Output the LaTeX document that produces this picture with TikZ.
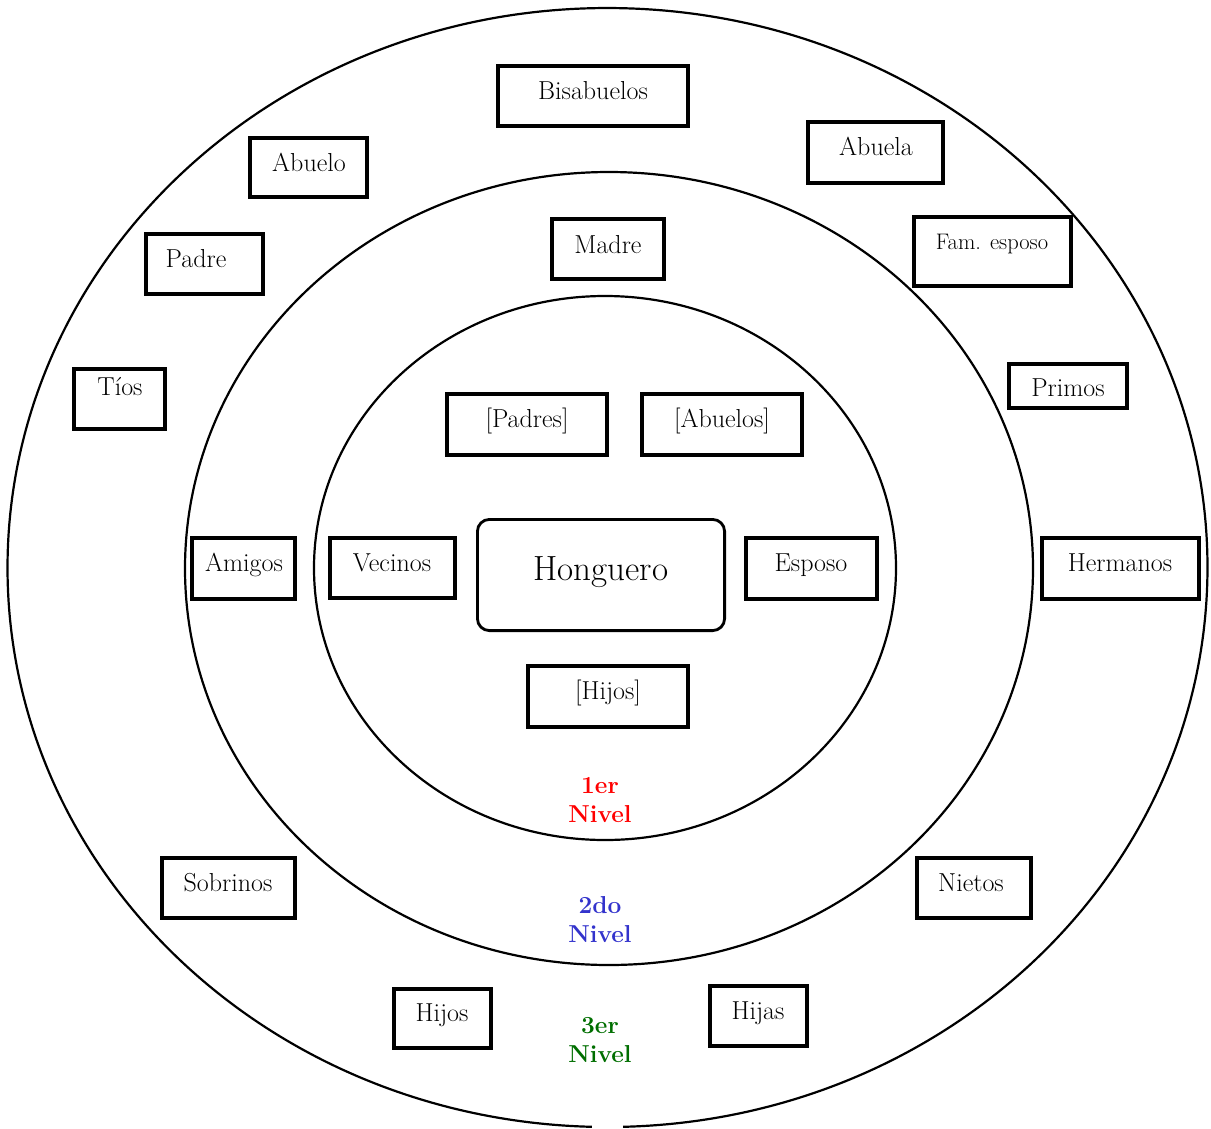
\documentclass[tikz,border=0pt]{standalone}
\usepackage{fontspec}
\usetikzlibrary{fit}
\definecolor{nivred}{RGB}{255,0,0}
\definecolor{nivblue}{RGB}{51,51,204}
\definecolor{nivgreen}{RGB}{0,110,0}
\begin{document}
\begin{tikzpicture}[x=1pt,y=-1pt,
  ring/.style={line width=2.2pt},
  box/.style={draw, line width=4pt, fill=white, inner sep=-2pt},
  hbox/.style={draw, line width=2.8pt, fill=white, inner sep=-1.4pt, rounded corners=12pt},
  lbl/.style={anchor=base, inner sep=0pt, font=\fontsize{26}{31}\selectfont},
  slbl/.style={anchor=base, inner sep=0pt, font=\fontsize{22.5}{27}\selectfont},
  hlbl/.style={anchor=base, inner sep=0pt, font=\fontsize{35}{41}\selectfont},
  niv/.style={anchor=base, inner sep=0pt, font=\bfseries\fontsize{24.5}{29}\selectfont}]
\useasboundingbox (0,0) rectangle (1211,1128);
% rings
\draw[ring] (591.8,1126.8) arc[start angle=91.5, end angle=448.5, x radius=600, y radius=559.5];
\draw[ring] (609,568.5) ellipse[x radius=424, y radius=396.5];
\draw[ring] (605,568) ellipse[x radius=291, y radius=272];
% boxes
\node[box, fit={(496,64) (690,128)}] (bisabuelos) {};
\node[box, fit={(248,136) (369,199)}] (abuelo) {};
\node[box, fit={(806,120) (945,185)}] (abuela) {};
\node[box, fit={(144,232) (265,296)}] (padre) {};
\node[box, fit={(550,217) (666,281)}] (madre) {};
\node[box, fit={(912,215) (1073,288)}] (famesposo) {};
\node[box, fit={(72,367) (167,431)}] (tios) {};
\node[box, fit={(1007,362) (1129,410)}] (primos) {};
\node[box, fit={(445,392) (609,457)}] (padres) {};
\node[box, fit={(640,392) (804,457)}] (abuelos) {};
\node[box, fit={(190,536) (297,601)}] (amigos) {};
\node[box, fit={(328,536) (457,600)}] (vecinos) {};
\node[hbox, fit={(476,518) (726,632)}] (honguero) {};
\node[box, fit={(744,536) (879,601)}] (esposo) {};
\node[box, fit={(1040,536) (1201,601)}] (hermanos) {};
\node[box, fit={(526,664) (690,729)}] (hijosc) {};
\node[box, fit={(160,856) (297,920)}] (sobrinos) {};
\node[box, fit={(915,856) (1033,920)}] (nietos) {};
\node[box, fit={(392,987) (493,1050)}] (hijos) {};
\node[box, fit={(708,984) (809,1048)}] (hijas) {};
% labels
\node[lbl] (t-bisabuelos) at (593,99) {Bisabuelos};
\node[lbl] (t-abuelo) at (309,171) {Abuelo};
\node[lbl] (t-abuela) at (876,155) {Abuela};
\node[lbl] (t-padre) at (196,267) {Padre};
\node[lbl] (t-madre) at (608,253) {Madre};
\node[slbl] (t-famesposo) at (992,249) {Fam. esposo};
\node[lbl] (t-tios) at (120,395) {Tíos};
\node[lbl] (t-primos) at (1068,396) {Primos};
\node[lbl] (t-padres) at (527,427) {[Padres]};
\node[lbl] (t-abuelos) at (722,427) {[Abuelos]};
\node[lbl] (t-amigos) at (244,571) {Amigos};
\node[lbl] (t-vecinos) at (392,571) {Vecinos};
\node[hlbl] (t-honguero) at (601,580) {Honguero};
\node[lbl] (t-esposo) at (811,571) {Esposo};
\node[lbl] (t-hermanos) at (1120,571) {Hermanos};
\node[lbl] (t-hijosc) at (608,699) {[Hijos]};
\node[lbl] (t-sobrinos) at (228,891) {Sobrinos};
\node[lbl] (t-nietos) at (971,891) {Nietos};
\node[lbl] (t-hijos) at (442,1021) {Hijos};
\node[lbl] (t-hijas) at (758,1019) {Hijas};
% levels
\node[niv, text=nivred] (n1a) at (600,793) {1er};
\node[niv, text=nivred] (n1b) at (600,822) {Nivel};
\node[niv, text=nivblue] (n2a) at (600,913) {2do};
\node[niv, text=nivblue] (n2b) at (600,942) {Nivel};
\node[niv, text=nivgreen] (n3a) at (600,1033) {3er};
\node[niv, text=nivgreen] (n3b) at (600,1062) {Nivel};
\end{tikzpicture}
\end{document}
